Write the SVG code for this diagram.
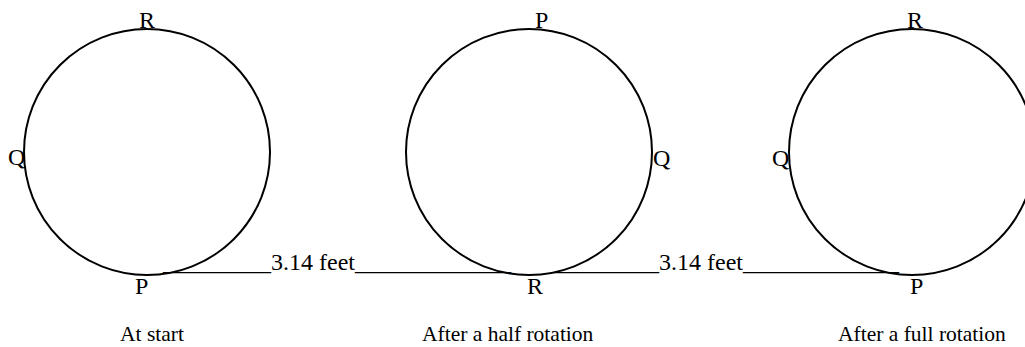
<svg xmlns="http://www.w3.org/2000/svg" width="1025" height="347" viewBox="0 0 1025 347">
<style>
.c{fill:none;stroke:#000;stroke-width:2}
.t{font-family:"Liberation Serif","Times New Roman",serif;font-size:24px;fill:#000}
.cap{font-family:"Liberation Serif","Times New Roman",serif;font-size:21.5px;fill:#000}
</style>
<rect width="1025" height="347" fill="#fff"/>
<g id="wheel-start">
<circle class="c" cx="147" cy="152" r="123"/>
<text class="t" x="147" y="28" text-anchor="middle">R</text>
<text class="t" x="8" y="165">Q</text>
<text class="t" x="135" y="294">P</text>
<text class="cap" x="120" y="341">At start</text>
</g>
<g id="wheel-half">
<circle class="c" cx="529" cy="152" r="123"/>
<text class="t" x="535" y="28">P</text>
<text class="t" x="653" y="166">Q</text>
<text class="t" x="527" y="294">R</text>
<text class="cap" x="422" y="341">After a half rotation</text>
</g>
<g id="wheel-full">
<circle class="c" cx="912" cy="152" r="123"/>
<text class="t" x="907" y="28">R</text>
<text class="t" x="772" y="166">Q</text>
<text class="t" x="910" y="294">P</text>
<text class="cap" x="838" y="341">After a full rotation</text>
</g>
<g id="distances">
<text class="t" x="163" y="270">_________3.14 feet_____________</text>
<text class="t" x="551" y="270">_________3.14 feet_____________</text>
</g>
</svg>
